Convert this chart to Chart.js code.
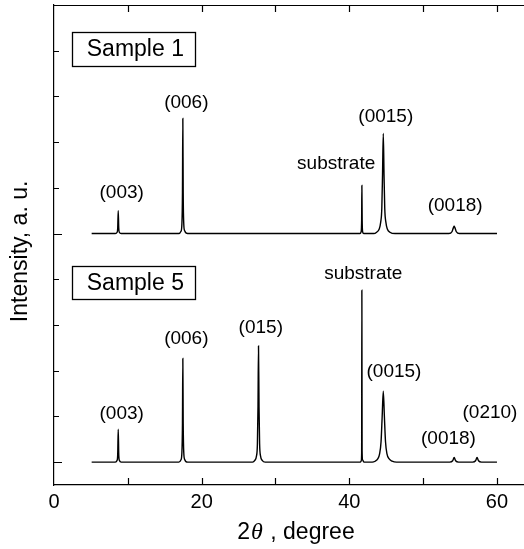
<!DOCTYPE html>
<html><head><meta charset="utf-8">
<script src="https://cdn.jsdelivr.net/npm/chart.js@4.4.0/dist/chart.umd.min.js"></script>
<style>html,body{margin:0;padding:0;background:#fff;overflow:hidden}#wrap{width:524px;height:549px}</style>
</head><body><div id="wrap"><canvas id="c" width="524" height="549"></canvas></div>
<script>
// ---------- data ----------
const sampleNames = ['Sample 1', 'Sample 5'];
const sampleOffsets = [5, 0];

const s1X = [5.1, 8.3, 8.55, 8.63, 8.7, 8.77, 8.85, 9.1,
  16.9, 17.2, 17.32, 17.4, 17.45, 17.5, 17.58, 17.7, 18.1,
  41.45, 41.6, 41.67, 41.7, 41.74, 41.8, 41.95,
  43.3, 43.7, 44.05, 44.25, 44.4, 44.5, 44.6, 44.7, 44.8, 44.95, 45.15, 45.5, 46.2,
  53.5, 53.9, 54.1, 54.2, 54.3, 54.5, 54.9, 60];
const s1Y = [0, 0, 0.03, 0.12, 0.5, 0.12, 0.03, 0,
  0, 0.05, 0.2, 0.9, 2.52, 0.9, 0.2, 0.06, 0,
  0, 0.04, 0.3, 1.05, 0.3, 0.04, 0,
  0, 0.03, 0.1, 0.25, 0.55, 1.3, 2.19, 1.3, 0.55, 0.25, 0.1, 0.03, 0,
  0, 0.04, 0.13, 0.16, 0.13, 0.04, 0, 0];

const s5X = [5.1, 8.3, 8.55, 8.63, 8.7, 8.77, 8.85, 9.1,
  16.9, 17.2, 17.32, 17.4, 17.45, 17.5, 17.58, 17.7, 18.1,
  26.9, 27.2, 27.42, 27.55, 27.63, 27.7, 27.77, 27.85, 27.98, 28.2, 28.6,
  41.5, 41.62, 41.67, 41.7, 41.73, 41.8, 42.0,
  43.1, 43.5, 43.85, 44.1, 44.3, 44.45, 44.6, 44.75, 44.9, 45.1, 45.4, 45.8, 46.4,
  53.6, 54.0, 54.2, 54.4, 54.8,
  56.7, 57.1, 57.3, 57.5, 57.9, 60];
const s5Y = [0, 0, 0.04, 0.17, 0.72, 0.17, 0.04, 0,
  0, 0.05, 0.2, 0.85, 2.27, 0.85, 0.2, 0.06, 0,
  0, 0.04, 0.13, 0.4, 1.2, 2.54, 1.2, 0.4, 0.13, 0.04, 0,
  0, 0.03, 0.2, 3.76, 0.25, 0.05, 0,
  0, 0.02, 0.07, 0.18, 0.45, 1.0, 1.55, 1.0, 0.45, 0.18, 0.07, 0.02, 0,
  0, 0.03, 0.1, 0.03, 0,
  0, 0.03, 0.1, 0.03, 0, 0];

const peakLabels1 = ['(003)', '(006)', 'substrate', '(0015)', '(0018)'];
const peakLabels5 = ['(003)', '(006)', '(015)', 'substrate', '(0015)', '(0018)', '(0210)'];

const xTickValues = [0, 10, 20, 30, 40, 50, 60];
const xTickLabels = ['0', '', '20', '', '40', '', '60'];
const yTickValues = [0, 1, 2, 3, 4, 5, 6, 7, 8, 9];
const yMajorTicks = [0, 5];

// ---------- annotation placement (data coordinates) ----------
const label1Pos = [[9.17, 5.90], [17.92, 7.87], [38.22, 6.52], [44.94, 7.56], [54.34, 5.61]];
const label5Pos = [[9.17, 1.05], [17.92, 2.69], [28.01, 2.95], [41.89, 4.11], [46.05, 1.98], [53.43, 0.51], [59.05, 1.09]];
const boxPos = [[2.4, 19.1, 9.41, 8.67], [2.4, 19.1, 4.29, 3.57]];

const FONT = '"Liberation Sans", Arial, Helvetica, sans-serif';

function pts(xs, ys, off) { return xs.map((x, i) => ({ x: x, y: ys[i] + off })); }

const decor = {
  id: 'decor',
  afterDraw(chart) {
    const { ctx, chartArea: a, scales } = chart;
    const x = scales.x, y = scales.y;
    ctx.save();
    ctx.strokeStyle = '#000';
    ctx.lineWidth = 1.2;
    ctx.beginPath();
    ctx.moveTo(a.left, a.top + 0.5); ctx.lineTo(a.right, a.top + 0.5);
    xTickValues.forEach(v => {
      if (v === 0) return;
      const px = Math.round(x.getPixelForValue(v)) + 0.5;
      ctx.moveTo(px, a.bottom); ctx.lineTo(px, a.bottom - 7);
      ctx.moveTo(px, a.top); ctx.lineTo(px, a.top + 7);
    });
    yTickValues.forEach(v => {
      const py = Math.round(y.getPixelForValue(v)) + 0.5;
      const len = yMajorTicks.includes(v) ? 8 : 5;
      ctx.moveTo(a.left, py); ctx.lineTo(a.left + len, py);
    });
    ctx.stroke();

    // peak labels
    ctx.fillStyle = '#000';
    ctx.textAlign = 'center';
    ctx.textBaseline = 'middle';
    ctx.font = '19px ' + FONT;
    peakLabels1.forEach((t, i) => ctx.fillText(t, x.getPixelForValue(label1Pos[i][0]), y.getPixelForValue(label1Pos[i][1])));
    peakLabels5.forEach((t, i) => ctx.fillText(t, x.getPixelForValue(label5Pos[i][0]), y.getPixelForValue(label5Pos[i][1])));

    // sample boxes
    ctx.font = '23px ' + FONT;
    sampleNames.forEach((n, i) => {
      const b = boxPos[i];
      const l = x.getPixelForValue(b[0]), r = x.getPixelForValue(b[1]);
      const t = y.getPixelForValue(b[2]), bo = y.getPixelForValue(b[3]);
      ctx.lineWidth = 1.3;
      ctx.strokeRect(Math.round(l) + 0.5, Math.round(t) + 0.5, Math.round(r - l), Math.round(bo - t));
      ctx.fillText(n, (l + r) / 2 + 2, (t + bo) / 2 + 1);
    });

    // x axis title with italic theta
    const p1 = '2', p2 = '\u03B8', p3 = ' , degree';
    const f1 = '23px ' + FONT, f2 = 'italic 24px "Liberation Serif", "DejaVu Serif", serif';
    ctx.textAlign = 'left';
    ctx.textBaseline = 'alphabetic';
    ctx.font = f1; const w1 = ctx.measureText(p1).width, w3 = ctx.measureText(p3).width;
    ctx.font = f2; const w2 = ctx.measureText(p2).width;
    let sx = 296 - (w1 + w2 + w3 + 2) / 2;
    const by = 539;
    ctx.font = f1; ctx.fillText(p1, sx, by); sx += w1 + 1;
    ctx.font = f2; ctx.fillText(p2, sx, by); sx += w2 + 1;
    ctx.font = f1; ctx.fillText(p3, sx, by);
    ctx.restore();
  }
};

new Chart(document.getElementById('c'), {
  type: 'line',
  data: {
    datasets: [
      { label: sampleNames[0], data: pts(s1X, s1Y, sampleOffsets[0]) },
      { label: sampleNames[1], data: pts(s5X, s5Y, sampleOffsets[1]) }
    ]
  },
  options: {
    responsive: false,
    animation: false,
    layout: { padding: { top: 5, left: 0, right: 0, bottom: 0 } },
    elements: {
      point: { radius: 0 },
      line: { borderColor: '#000', borderWidth: 1.4, cubicInterpolationMode: 'monotone', fill: false }
    },
    plugins: { legend: { display: false }, tooltip: { enabled: false } },
    scales: {
      x: {
        type: 'linear', min: 0, max: 63.66,
        afterBuildTicks(s) { s.ticks = xTickValues.map(v => ({ value: v })); },
        afterFit(s) { s.height = 64; s.paddingLeft = 0; s.paddingRight = 0; },
        grid: { display: false, drawTicks: false },
        border: { display: true, color: '#000', width: 1.2 },
        ticks: {
          autoSkip: false, maxRotation: 0, padding: 5, color: '#000',
          font: { size: 20, family: FONT },
          callback: (v) => { const k = xTickValues.indexOf(v); return k >= 0 ? xTickLabels[k] : ''; }
        }
      },
      y: {
        type: 'linear', min: -0.5, max: 10,
        afterFit(s) { s.width = 54; },
        grid: { display: false, drawTicks: false },
        border: { display: true, color: '#000', width: 1.2 },
        ticks: { display: false },
        title: { display: true, text: 'Intensity, a. u.  ', color: '#000', font: { size: 23, family: FONT }, padding: { top: 7, bottom: 0 } }
      }
    }
  },
  plugins: [decor]
});
</script>
</body></html>
